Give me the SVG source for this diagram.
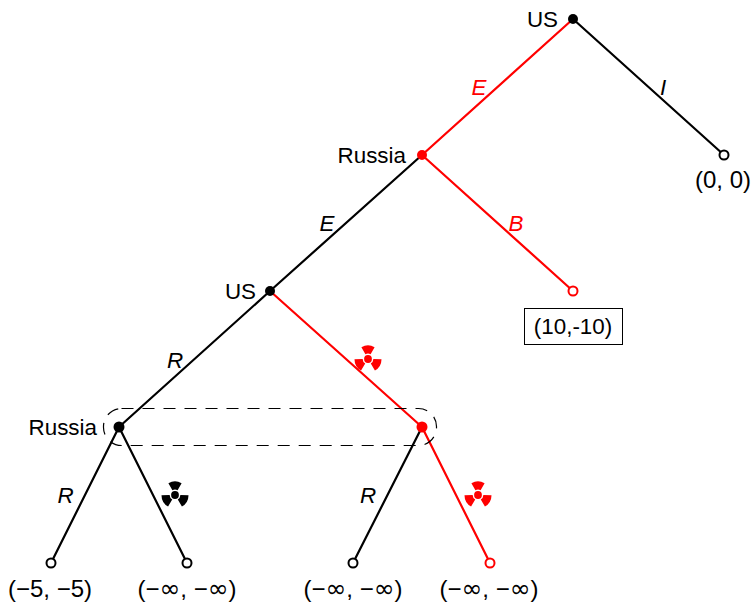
<svg xmlns="http://www.w3.org/2000/svg" width="752" height="602" viewBox="0 0 752 602">
<style>
text{font-family:"Liberation Sans",Arial,sans-serif;font-size:22.400px;fill:#000}
.r{text-anchor:end}.m{text-anchor:middle}.i{font-style:italic}
.red{fill:#f00}
text.v{font-size:24px}
.inf{font-family:"DejaVu Sans",sans-serif;font-size:25px}
.e{stroke:#000;stroke-width:2.200;fill:none;stroke-linecap:round}
.er{stroke:#f00}
.o{fill:#fff;stroke:#000;stroke-width:2}
.or{stroke:#f00}
</style>
<defs>
<g id="rad">
<circle r="3.900"/>
<path id="blade" d="M-6.600-11.800A13.500 13.500 0 0 1 6.600-11.800L2.600-4.700A5.400 5.400 0 0 0-2.600-4.700Z"/>
<use href="#blade" transform="rotate(120)"/>
<use href="#blade" transform="rotate(240)"/>
</g>
</defs>
<g id="connectors">
<path class="e" d="M573 19L724 155M270 291L119 427M119 427L51 563M119 427L187 563M422 427L353 563M422 155L270 291"/>
<path class="e er" d="M573 19L422 155M422 155L573 291M270 291L422 427M422 427L490 563"/>
</g>
<g id="info-set"><rect x="103.500" y="408.500" width="333" height="37" rx="18" fill="none" stroke="#000" stroke-width="1.200" stroke-dasharray="12 9"/></g>
<g id="n-us1"><circle cx="573" cy="19" r="5"/><text class="r" x="558" y="27">US</text></g>
<g id="n-russia1"><circle cx="422" cy="155" r="5" fill="#f00"/><text class="r" x="406" y="163">Russia</text></g>
<g id="n-us2"><circle cx="270" cy="291" r="5"/><text class="r" x="256" y="299">US</text></g>
<g id="n-russia2"><circle cx="119" cy="427" r="5.500"/><text class="r" x="97" y="435">Russia</text></g>
<g id="n-russia3"><circle cx="422" cy="427" r="5.500" fill="#f00"/></g>
<g id="l-00"><circle class="o" cx="724" cy="155" r="4.500"/><text class="m v" x="723" y="188">(0, 0)</text></g>
<g id="l-10"><circle class="o or" cx="573" cy="291" r="4.500"/><rect x="524.500" y="308.500" width="98" height="36" fill="#fff" stroke="#000" stroke-width="1"/><text class="m" x="573" y="334">(10,-10)</text></g>
<g id="l-55"><circle class="o" cx="51" cy="563" r="4.500"/><text class="m v" x="50" y="597">(−5, −5)</text></g>
<g id="l-i1"><circle class="o" cx="187" cy="563" r="4.500"/><text class="m v" x="187" y="597">(−<tspan class="inf">∞</tspan>, −<tspan class="inf">∞</tspan>)</text></g>
<g id="l-i2"><circle class="o" cx="353" cy="563" r="4.500"/><text class="m v" x="353" y="597">(−<tspan class="inf">∞</tspan>, −<tspan class="inf">∞</tspan>)</text></g>
<g id="l-i3"><circle class="o or" cx="490" cy="563" r="4.500"/><text class="m v" x="489" y="597">(−<tspan class="inf">∞</tspan>, −<tspan class="inf">∞</tspan>)</text></g>
<g id="edge-labels">
<text class="m i red" x="479" y="95">E</text>
<text class="m i" x="663" y="95">I</text>
<text class="m i" x="327" y="231">E</text>
<text class="m i red" x="516" y="231">B</text>
<text class="m i" x="175" y="368">R</text>
<text class="m i" x="65.500" y="503">R</text>
<text class="m i" x="368" y="503">R</text>
<use href="#rad" x="368" y="359" fill="#f00"/>
<use href="#rad" x="175" y="495"/>
<use href="#rad" x="478" y="495" fill="#f00"/>
</g>
</svg>
